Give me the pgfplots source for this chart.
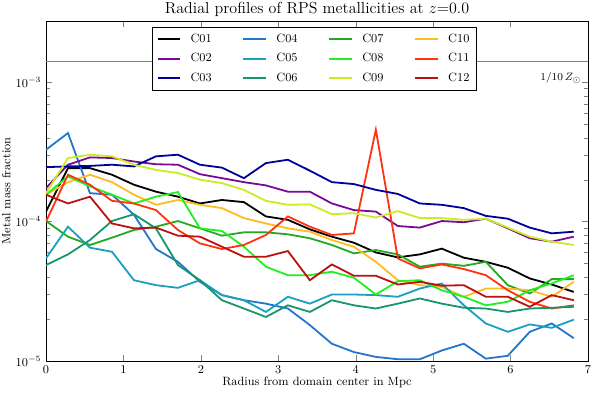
\documentclass[border=0pt]{standalone}
\usepackage{pgfplots}
\usepackage{pgfplotstable}
\pgfplotsset{compat=1.18}

\definecolor{c01}{HTML}{000000}
\definecolor{c02}{HTML}{7A0A96}
\definecolor{c03}{HTML}{00009A}
\definecolor{c04}{HTML}{2277CC}
\definecolor{c05}{HTML}{1AA0C0}
\definecolor{c06}{HTML}{15966E}
\definecolor{c07}{HTML}{22AA22}
\definecolor{c08}{HTML}{22EE22}
\definecolor{c09}{HTML}{C8EE22}
\definecolor{c10}{HTML}{FFBB22}
\definecolor{c11}{HTML}{FF3311}
\definecolor{c12}{HTML}{BB1111}

% metal mass fraction profiles, one column per cluster
\pgfplotstableread{
x     c01     c02     c03     c04     c05     c06     c07     c08     c09     c10     c11     c12
0     1.18e-4 1.74e-4 2.46e-4 3.28e-4 5.45e-5 4.88e-5 1.01e-4 1.56e-4 1.60e-4 1.56e-4 1.00e-4 1.56e-4
0.284 2.42e-4 2.56e-4 2.49e-4 4.32e-4 9.20e-5 5.82e-5 7.80e-5 2.11e-4 2.86e-4 1.92e-4 2.17e-4 1.35e-4
0.568 2.42e-4 2.89e-4 2.51e-4 1.60e-4 6.50e-5 7.38e-5 6.80e-5 1.79e-4 3.02e-4 2.17e-4 1.84e-4 1.51e-4
0.852 2.17e-4 2.86e-4 2.56e-4 1.56e-4 6.08e-5 1.01e-4 7.67e-5 1.56e-4 2.94e-4 1.92e-4 1.41e-4 9.70e-5
1.136 1.84e-4 2.70e-4 2.49e-4 1.12e-4 3.80e-5 1.13e-4 8.71e-5 1.35e-4 2.56e-4 1.56e-4 1.35e-4 8.95e-5
1.420 1.64e-4 2.58e-4 2.94e-4 6.36e-5 3.50e-5 8.95e-5 9.20e-5 1.51e-4 2.35e-4 1.32e-4 1.21e-4 9.06e-5
1.704 1.51e-4 2.56e-4 3.02e-4 5.15e-5 3.35e-5 4.88e-5 1.01e-4 1.63e-4 2.23e-4 1.43e-4 8.71e-5 7.93e-5
1.988 1.35e-4 2.19e-4 2.56e-4 3.70e-5 3.80e-5 3.80e-5 8.95e-5 8.95e-5 2.00e-4 1.32e-4 6.98e-5 7.80e-5
2.272 1.43e-4 2.05e-4 2.44e-4 2.97e-5 2.97e-5 2.73e-5 7.93e-5 8.57e-5 1.89e-4 1.25e-4 6.36e-5 6.61e-5
2.556 1.38e-4 1.92e-4 2.05e-4 2.73e-5 2.73e-5 2.38e-5 8.38e-5 6.61e-5 1.69e-4 1.06e-4 6.80e-5 5.60e-5
2.840 1.09e-4 1.82e-4 2.63e-4 2.58e-5 2.25e-5 2.07e-5 8.38e-5 4.75e-5 1.41e-4 9.70e-5 8.02e-5 5.60e-5
3.124 1.03e-4 1.64e-4 2.78e-4 2.38e-5 2.89e-5 2.51e-5 8.11e-5 4.13e-5 1.32e-4 8.95e-5 1.09e-4 6.15e-5
3.408 8.80e-5 1.64e-4 2.32e-4 1.81e-5 2.58e-5 2.25e-5 7.60e-5 4.13e-5 1.33e-4 8.47e-5 9.20e-5 3.80e-5
3.692 7.80e-5 1.35e-4 1.92e-4 1.33e-5 3.00e-5 2.73e-5 6.80e-5 4.37e-5 1.13e-4 7.38e-5 8.02e-5 4.93e-5
3.976 7.06e-5 1.21e-4 1.86e-4 1.16e-5 3.00e-5 2.51e-5 5.92e-5 3.96e-5 1.15e-4 6.61e-5 8.24e-5 4.09e-5
4.260 6.01e-5 1.18e-4 1.69e-4 1.07e-5 2.97e-5 2.38e-5 6.25e-5 3.00e-5 1.07e-4 5.15e-5 4.57e-4 4.09e-5
4.544 5.54e-5 9.30e-5 1.58e-4 1.03e-5 2.89e-5 2.58e-5 5.82e-5 3.74e-5 1.19e-4 3.80e-5 5.45e-5 3.54e-5
4.828 5.82e-5 9.06e-5 1.35e-4 1.03e-5 3.31e-5 2.81e-5 4.75e-5 3.80e-5 1.06e-4 3.50e-5 4.62e-5 3.70e-5
5.112 6.40e-5 1.01e-4 1.32e-4 1.19e-5 3.60e-5 2.58e-5 5.00e-5 3.22e-5 1.06e-4 3.40e-5 4.93e-5 3.47e-5
5.396 5.51e-5 9.90e-5 1.25e-4 1.33e-5 2.51e-5 2.41e-5 4.82e-5 2.89e-5 1.03e-4 2.89e-5 4.57e-5 3.50e-5
5.680 5.15e-5 1.05e-4 1.10e-4 1.04e-5 1.86e-5 2.38e-5 5.15e-5 2.51e-5 1.05e-4 3.31e-5 4.13e-5 2.89e-5
5.964 4.67e-5 8.95e-5 1.05e-4 1.09e-5 1.62e-5 2.25e-5 3.50e-5 2.66e-5 9.06e-5 3.31e-5 3.22e-5 2.89e-5
6.248 3.91e-5 7.60e-5 9.06e-5 1.62e-5 1.83e-5 2.38e-5 3.05e-5 3.22e-5 7.80e-5 3.22e-5 2.66e-5 2.45e-5
6.532 3.54e-5 7.18e-5 8.24e-5 1.86e-5 1.73e-5 2.41e-5 3.87e-5 3.60e-5 7.18e-5 2.89e-5 2.38e-5 2.97e-5
6.816 3.13e-5 7.80e-5 8.47e-5 1.46e-5 1.98e-5 2.45e-5 3.87e-5 4.13e-5 6.80e-5 3.70e-5 2.51e-5 2.73e-5
}\rps

\tikzset{prof/.style={line width=1.35pt}}

\begin{document}
\begin{tikzpicture}
\begin{axis}[
    width=406.5pt, height=255pt, scale only axis,
    xmin=0, xmax=7,
    ymode=log, ymin=1e-5, ymax=2.75e-3,
    xtick={0,1,...,7},
    title={Radial profiles of RPS metallicities at $z$=0.0},
    title style={font=\large, yshift=-6pt},
    xlabel={Radius from domain center in Mpc},
    ylabel={Metal mass fraction},
    xlabel style={yshift=4pt},
    ylabel style={yshift=-3pt},
    tick label style={font=\small},
    label style={font=\small},
    axis line style={line width=0.6pt},
    legend columns=4,
    legend cell align=left,
    legend image code/.code={\draw[#1, line width=1.5pt] (0pt,0pt) -- (17pt,0pt);},
    legend style={at={(rel axis cs:0.196,0.982)}, anchor=north west,
        font=\small, draw=black, fill=white, inner sep=3pt,
        /tikz/every odd column/.append style={column sep=5pt},
        /tikz/every even column/.append style={column sep=21pt},
        /tikz/row sep=2.7pt},
]
\addplot[gray, line width=0.6pt, forget plot] coordinates {(0,1.42e-3) (7,1.42e-3)};
\node[anchor=north east, font=\footnotesize] at (axis cs:6.97,1.26e-3) {$1/10\,Z_\odot$};

% added row by row so the legend reads C01..C03 down the first column
\addplot[c01, prof] table[y=c01] {\rps}; \addlegendentry{C01}
\addplot[c04, prof] table[y=c04] {\rps}; \addlegendentry{C04}
\addplot[c07, prof] table[y=c07] {\rps}; \addlegendentry{C07}
\addplot[c10, prof] table[y=c10] {\rps}; \addlegendentry{C10}
\addplot[c02, prof] table[y=c02] {\rps}; \addlegendentry{C02}
\addplot[c05, prof] table[y=c05] {\rps}; \addlegendentry{C05}
\addplot[c08, prof] table[y=c08] {\rps}; \addlegendentry{C08}
\addplot[c11, prof] table[y=c11] {\rps}; \addlegendentry{C11}
\addplot[c03, prof] table[y=c03] {\rps}; \addlegendentry{C03}
\addplot[c06, prof] table[y=c06] {\rps}; \addlegendentry{C06}
\addplot[c09, prof] table[y=c09] {\rps}; \addlegendentry{C09}
\addplot[c12, prof] table[y=c12] {\rps}; \addlegendentry{C12}
\end{axis}
\pgfresetboundingbox
\path[use as bounding box] (current axis.south west) ++(-34.5pt,-23.25pt)
    rectangle ([shift={(9pt,15.75pt)}]current axis.north east);
\end{tikzpicture}
\end{document}
